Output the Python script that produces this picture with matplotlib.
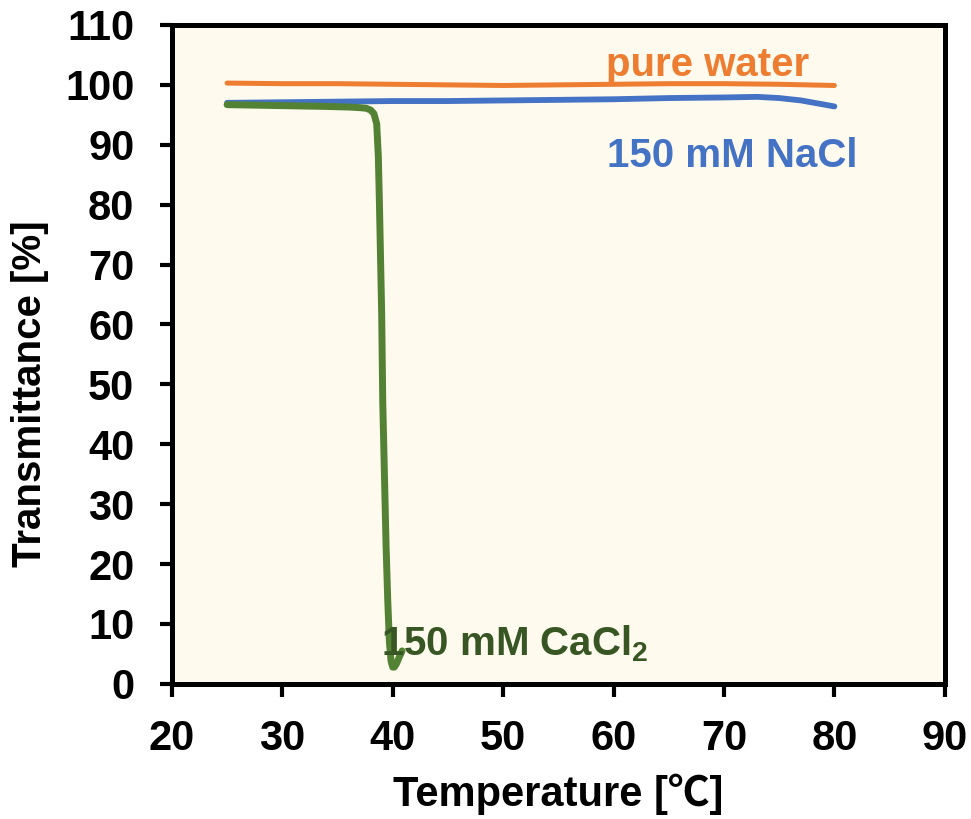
import matplotlib
matplotlib.use("Agg")
import matplotlib.pyplot as plt

plt.rcParams['font.family'] = ['Liberation Sans', 'DejaVu Sans']
plt.rcParams['font.weight'] = 'bold'
plt.rcParams['mathtext.fontset'] = 'custom'
plt.rcParams['mathtext.rm'] = 'Liberation Sans:bold'
plt.rcParams['mathtext.bf'] = 'Liberation Sans:bold'
plt.rcParams['mathtext.it'] = 'Liberation Sans:bold'

# ---- data ----
water_T = [25, 30, 35, 40, 45, 50, 55, 60, 65, 70, 75, 80]
water_V = [100.3, 100.2, 100.2, 100.1, 100.0, 99.9, 100.0, 100.1, 100.2, 100.2, 100.1, 99.9]

nacl_T = [25, 30, 35, 40, 45, 50, 55, 60, 65, 70, 73, 75, 77, 80]
nacl_V = [97.0, 97.1, 97.2, 97.3, 97.3, 97.4, 97.5, 97.6, 97.8, 97.9, 98.0, 97.8, 97.4, 96.4]

cacl_T = [25, 28, 31, 34, 36, 37, 37.6, 38.0, 38.3, 38.55, 38.7, 38.8, 39.0, 39.1,
          39.25, 39.4, 39.55, 39.7, 39.85, 40.0, 40.15, 40.35, 40.6, 40.85]
cacl_V = [96.7, 96.6, 96.5, 96.4, 96.3, 96.2, 96.1, 95.8, 95.2, 93.5, 88, 80, 62, 47,
          35, 23, 14, 7, 3.8, 2.8, 2.8, 3.4, 4.5, 5.5]

x_ticks = [20, 30, 40, 50, 60, 70, 80, 90]
y_ticks = [0, 10, 20, 30, 40, 50, 60, 70, 80, 90, 100, 110]

label_water = "pure water"
label_nacl = "150 mM NaCl"
label_cacl = "150 mM CaCl$_\\mathbf{2}$"
xlabel = "Temperature [℃]"
ylabel = "Transmittance [%]"

c_orange = "#ED7D31"
c_blue = "#4472C4"
c_green = "#548235"
c_green_txt = "#375623"

fig = plt.figure(figsize=(9.71, 8.19), dpi=100)
ax = fig.add_axes([0.177, 0.165, 0.796, 0.8045])
ax.set_facecolor("#FFFAEE")

ax.plot(water_T, water_V, color=c_orange, lw=3.6, solid_capstyle='round', zorder=3)
ax.plot(nacl_T, nacl_V, color=c_blue, lw=4.2, solid_capstyle='round', zorder=3)
ax.plot(cacl_T, cacl_V, color=c_green, lw=5.0, solid_capstyle='round',
        solid_joinstyle='round', zorder=3)

ax.set_xlim(20, 90)
ax.set_ylim(0, 110)
ax.set_xticks(x_ticks)
ax.set_yticks(y_ticks)
ax.tick_params(axis='both', direction='out', length=9, width=3, labelsize=30)
ax.tick_params(axis='x', pad=16)
ax.tick_params(axis='y', pad=18)
for lab in ax.get_xticklabels() + ax.get_yticklabels():
    lab.set_fontweight('bold')
for s in ax.spines.values():
    s.set_linewidth(3.6)
    s.set_color('black')

ax.text(59.3, 101.5, label_water, color=c_orange, fontsize=29, fontweight='bold',
        ha='left', va='baseline', zorder=4)
ax.text(59.4, 86.3, label_nacl, color=c_blue, fontsize=29, fontweight='bold',
        ha='left', va='baseline', zorder=4)
ax.text(38.9, 4.8, label_cacl, color=c_green_txt, fontsize=29, fontweight='bold',
        ha='left', va='baseline', zorder=4)

ax.set_xlabel(xlabel, fontsize=30, fontweight='bold', va='center',
              family=['Liberation Sans', 'Noto Sans CJK JP', 'DejaVu Sans'])
ax.set_ylabel(ylabel, fontsize=29, fontweight='bold', va='center')
ax.xaxis.set_label_coords(0.4994, -0.168)
ax.yaxis.set_label_coords(-0.184, 0.44)

fig.savefig("out.png", dpi=100, facecolor='white')
